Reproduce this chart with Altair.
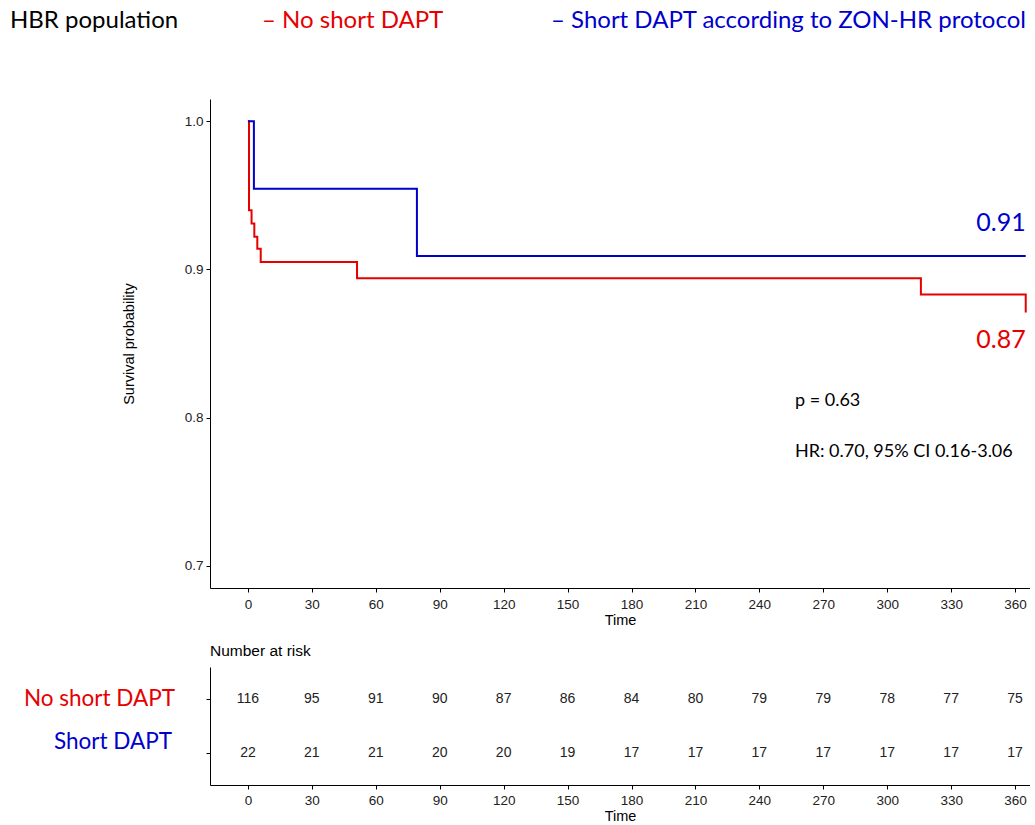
import altair as alt
import pandas as pd

# ---- data ----
red_times = [0, 0.5, 1.7, 3.0, 4.4, 6.0, 51.2, 315.8, 365]
red_surv = [1.0, 0.940, 0.931, 0.922, 0.914, 0.905, 0.894, 0.883, 0.871]
blue_times = [0, 2.8, 79.3, 365]
blue_surv = [1.0, 0.9545, 0.909, 0.909]

risk_times = [0, 30, 60, 90, 120, 150, 180, 210, 240, 270, 300, 330, 360]
risk_red = [116, 95, 91, 90, 87, 86, 84, 80, 79, 79, 78, 77, 75]
risk_blue = [22, 21, 21, 20, 20, 19, 17, 17, 17, 17, 17, 17, 17]

groups = ["No short DAPT", "Short DAPT according to ZON-HR protocol"]
colors = ["#e60000", "#0000cc"]
x_ticks = [0, 30, 60, 90, 120, 150, 180, 210, 240, 270, 300, 330, 360]
y_ticks = [0.7, 0.8, 0.9, 1.0]

end_labels = ["0.87", "0.91"]
stat_texts = ["p = 0.63", "HR: 0.70, 95% CI 0.16-3.06"]

# ---- tables ----
curves = pd.DataFrame(
    {"time": red_times, "surv": red_surv, "group": groups[0], "order": range(len(red_times))}
)
curves = pd.concat(
    [curves,
     pd.DataFrame({"time": blue_times, "surv": blue_surv, "group": groups[1],
                   "order": range(len(blue_times))})],
    ignore_index=True,
)

ends = pd.DataFrame({"time": [365, 365], "surv": [0.8525, 0.9313], "label": end_labels,
                     "group": groups})
stats = pd.DataFrame({"time": [256.7, 256.7], "surv": [0.8114, 0.7771], "label": stat_texts})

risk = pd.DataFrame({
    "time": risk_times * 2,
    "n": risk_red + risk_blue,
    "row": [2] * len(risk_times) + [1] * len(risk_times),
})

XDOM = [-17.8, 367.0]
SANS = "Liberation Sans"
CAL = "Lato"

xscale = alt.Scale(domain=XDOM, nice=False, zero=False)
color_scale = alt.Scale(domain=groups, range=colors)

main_x_axis = alt.Axis(values=x_ticks, title="Time", grid=False, tickSize=4,
                       labelPadding=5, titlePadding=3, labelFontSize=13.5,
                       titleFontSize=14.5, labelFont=SANS, titleFont=SANS,
                       labelColor="#222", titleColor="black", domainColor="black",
                       tickColor="black", titleFontWeight="normal")

lines = alt.Chart(curves).mark_line(interpolate="step-after", strokeWidth=2).encode(
    x=alt.X("time:Q", scale=xscale, axis=main_x_axis),
    y=alt.Y("surv:Q",
            scale=alt.Scale(domain=[0.685, 1.015], nice=False, zero=False),
            axis=alt.Axis(values=y_ticks, format=".1f", title="Survival probability",
                          grid=False, tickSize=4, labelPadding=3, titlePadding=48,
                          labelFontSize=13.5, titleFontSize=14.5, labelFont=SANS,
                          titleFont=SANS, labelColor="#222", titleColor="black",
                          domainColor="black", tickColor="black",
                          titleFontWeight="normal")),
    color=alt.Color("group:N", scale=color_scale, legend=None),
    order="order:Q",
)

end_text = alt.Chart(ends).mark_text(align="right", baseline="middle", fontSize=25,
                                     font=CAL).encode(
    x="time:Q", y="surv:Q",
    color=alt.Color("group:N", scale=color_scale, legend=None),
    text="label:N",
)

stat_text = alt.Chart(stats).mark_text(align="left", baseline="middle", fontSize=18,
                                       font=CAL, color="black").encode(
    x="time:Q", y="surv:Q", text="label:N",
)

title_txt = alt.Chart(pd.DataFrame({"t": ["HBR population"]})).mark_text(
    align="left", baseline="middle", fontSize=24, font=CAL, color="black"
).encode(x=alt.value(-200), y=alt.value(-78), text="t:N")

leg_red = alt.Chart(pd.DataFrame({"t": ["– " + groups[0]]})).mark_text(
    align="left", baseline="middle", fontSize=24, font=CAL, color=colors[0]
).encode(x=alt.value(52), y=alt.value(-78), text="t:N")

leg_blue = alt.Chart(pd.DataFrame({"t": ["– " + groups[1]]})).mark_text(
    align="left", baseline="middle", fontSize=24, font=CAL, color=colors[1]
).encode(x=alt.value(341), y=alt.value(-78), text="t:N")

main = alt.layer(lines, end_text, stat_text, title_txt, leg_red, leg_blue).properties(
    width=820, height=489
)

# ---- risk table ----
risk_x_axis = alt.Axis(values=x_ticks, title="Time", grid=False, tickSize=4,
                       labelPadding=4, titlePadding=3, labelFontSize=13.5,
                       titleFontSize=14.5, labelFont=SANS, titleFont=SANS,
                       labelColor="#222", titleColor="black", domainColor="black",
                       tickColor="black", titleFontWeight="normal")

risk_text = alt.Chart(risk).mark_text(fontSize=14, font=SANS, color="#222",
                                      baseline="middle").encode(
    x=alt.X("time:Q", scale=xscale, axis=risk_x_axis),
    y=alt.Y("row:Q", scale=alt.Scale(domain=[0.4, 2.6], nice=False, zero=False),
            axis=alt.Axis(values=[1, 2], labels=False, title=None, grid=False,
                          tickSize=4, domainColor="black", tickColor="black")),
    text="n:Q",
)

row_red = alt.Chart(pd.DataFrame({"t": ["No short DAPT"], "row": [2]})).mark_text(
    align="right", baseline="middle", fontSize=22.5, font=CAL, color=colors[0]
).encode(x=alt.value(-35), y="row:Q", text="t:N")

row_blue = alt.Chart(pd.DataFrame({"t": ["Short DAPT"], "row": [1]})).mark_text(
    align="right", baseline="middle", fontSize=22.5, font=CAL, color=colors[1], dy=-11
).encode(x=alt.value(-38), y="row:Q", text="t:N")

nar = alt.Chart(pd.DataFrame({"t": ["Number at risk"]})).mark_text(
    align="left", baseline="middle", fontSize=15.5, font=SANS, color="black"
).encode(x=alt.value(0), y=alt.value(-16), text="t:N")

risk_chart = alt.layer(risk_text, row_red, row_blue, nar).properties(width=820, height=118)

chart = alt.vconcat(main, risk_chart, spacing=79, bounds="flush").properties(
    padding={"left": 10, "top": 9, "right": 0, "bottom": 0},
    background="white",
).configure_view(stroke=None)

chart.save("out.html", embed_options={"renderer": "svg", "actions": False})
